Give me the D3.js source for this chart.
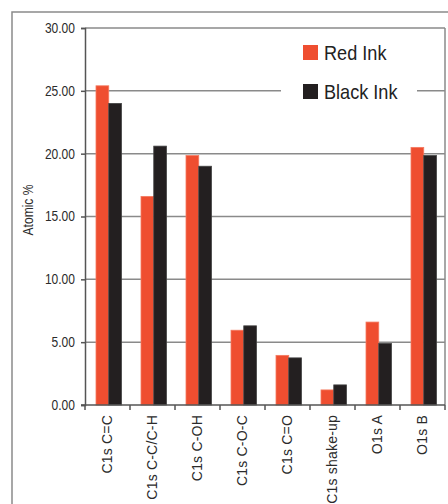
<!DOCTYPE html>
<meta charset="utf-8">
<script src="https://d3js.org/d3.v7.min.js"></script>
<style>
  body { margin: 0; background: #fff; }
  text { font-family: "Liberation Sans", Arial, sans-serif; }
</style>
<div id="chart"></div>
<script>
// categories and series
const categories = ["C1s C=C", "C1s C-C/C-H", "C1s C-OH", "C1s C-O-C", "C1s C=O", "C1s shake-up", "O1s A", "O1s B"];
const redInk = [25.4, 16.6, 19.85, 5.95, 3.95, 1.2, 6.6, 20.5];
const blackInk = [24.0, 20.6, 19.0, 6.3, 3.75, 1.6, 4.9, 19.85];
const seriesNames = ["Red Ink", "Black Ink"];
const yTicks = [0, 5, 10, 15, 20, 25, 30];

const colors = {"Red Ink": "#ef4e30", "Black Ink": "#231f20"};
const strokes = {"Red Ink": "#f47a60", "Black Ink": "#444"};

const W = 448, H = 504;
const plot = {left: 85, top: 28, right: 445, bottom: 405};
const fontFam = "Liberation Sans, Arial, sans-serif";
const squeeze = 0.86;   // narrow the glyphs a little, the original uses a condensed face

const svg = d3.select("#chart").append("svg")
  .attr("width", W).attr("height", H);

// outer frame (runs off the picture on right and bottom)
svg.append("rect")
  .attr("x", 12).attr("y", 12)
  .attr("width", 520).attr("height", 600)
  .attr("fill", "none").attr("stroke", "#8a8a8a").attr("stroke-width", 1.5);

const x = d3.scaleBand().domain(categories).range([plot.left, plot.right]);
const xSub = d3.scaleBand().domain(seriesNames).range([11, 36.5]);
const y = d3.scaleLinear().domain([0, 30]).range([plot.bottom, plot.top]);

// grid lines
svg.append("g").selectAll("line")
  .data(yTicks.filter(d => d > 0))
  .join("line")
    .attr("x1", plot.left).attr("x2", plot.right)
    .attr("y1", d => y(d)).attr("y2", d => y(d))
    .attr("stroke", "#8a8a8a").attr("stroke-width", 1.5);

// right side of plot frame
svg.append("line")
  .attr("x1", plot.right).attr("x2", plot.right)
  .attr("y1", y(30)).attr("y2", y(0))
  .attr("stroke", "#8a8a8a").attr("stroke-width", 1.5);

// bars
const rows = categories.map((c, i) => ({cat: c, values: [
  {key: "Red Ink", value: redInk[i]},
  {key: "Black Ink", value: blackInk[i]}
]}));

svg.append("g").selectAll("g")
  .data(rows)
  .join("g")
    .attr("transform", d => `translate(${x(d.cat)},0)`)
  .selectAll("rect")
  .data(d => d.values)
  .join("rect")
    .attr("x", d => xSub(d.key))
    .attr("y", d => y(d.value))
    .attr("width", xSub.bandwidth())
    .attr("height", d => y(0) - y(d.value))
    .attr("fill", d => colors[d.key])
    .attr("stroke", d => strokes[d.key])
    .attr("stroke-width", 0.8);

// y axis
const yAxis = svg.append("g")
  .attr("transform", `translate(${plot.left},0)`)
  .call(d3.axisLeft(y).tickValues(yTicks).tickFormat(d3.format(".2f")).tickSize(4).tickPadding(6));
yAxis.select(".domain").attr("stroke", "#555").attr("stroke-width", 1.5);
yAxis.selectAll(".tick line").attr("stroke", "#555").attr("stroke-width", 1.5);
yAxis.selectAll(".tick text")
  .attr("x", -10 / squeeze)
  .attr("transform", `scale(${squeeze},1)`)
  .attr("font-size", 14).attr("fill", "#2b2b2b")
  .attr("font-family", fontFam);

// x axis: labels at band centres, ticks at band edges
const xAxis = svg.append("g")
  .attr("transform", `translate(0,${plot.bottom})`)
  .call(d3.axisBottom(x).tickSize(0));
xAxis.select(".domain").remove();
xAxis.append("line")
  .attr("x1", plot.left - 4).attr("x2", plot.right)
  .attr("stroke", "#555").attr("stroke-width", 1.5);
xAxis.selectAll(".edge")
  .data(categories.map(c => x(c)).concat([plot.right]))
  .join("line")
    .attr("class", "edge")
    .attr("x1", d => d).attr("x2", d => d)
    .attr("y1", 0).attr("y2", 5)
    .attr("stroke", "#555").attr("stroke-width", 1.5);
xAxis.selectAll(".tick text")
  .attr("transform", "rotate(-90)")
  .attr("x", -10).attr("y", 0).attr("dy", "0.35em")
  .attr("text-anchor", "end")
  .attr("font-size", 14).attr("fill", "#2b2b2b").attr("letter-spacing", 0.2)
  .attr("font-family", fontFam);

// y axis title
svg.append("text")
  .attr("transform", `translate(28,210) rotate(-90) scale(${squeeze},1)`)
  .attr("text-anchor", "middle").attr("dy", "0.35em")
  .attr("font-size", 14).attr("fill", "#2b2b2b")
  .text("Atomic %");

// legend
const legend = svg.append("g");
legend.append("rect")
  .attr("x", 281).attr("y", 36).attr("width", 136).attr("height", 70)
  .attr("fill", "#fff");
const li = legend.selectAll("g.item")
  .data(seriesNames)
  .join("g")
    .attr("class", "item")
    .attr("transform", (d, i) => `translate(303,${45 + i * 39})`);
li.append("rect")
  .attr("width", 15).attr("height", 15)
  .attr("fill", d => colors[d]);
li.append("text")
  .attr("transform", "translate(21,14.8) scale(0.93,1)")
  .attr("font-size", 19.5).attr("fill", "#222")
  .text(d => d);
</script>
